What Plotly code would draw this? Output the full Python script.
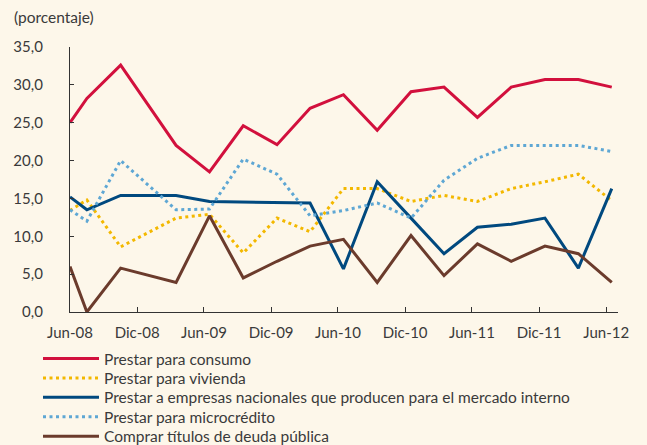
import plotly.graph_objects as go

fechas = ["2008-06-15", "2008-07-31", "2008-10-31", "2009-03-31", "2009-06-30",
          "2009-09-30", "2009-12-31", "2010-03-31", "2010-06-30", "2010-09-30",
          "2010-12-31", "2011-03-31", "2011-06-30", "2011-09-30", "2011-12-31",
          "2012-03-31", "2012-06-30"]

consumo = [25.0, 28.2, 32.6, 22.0, 18.5, 24.6, 22.1, 26.9, 28.7, 24.0,
           29.1, 29.7, 25.7, 29.7, 30.7, 30.7, 29.7]
vivienda = [13.4, 14.8, 8.6, 12.4, 12.9, 7.8, 12.4, 10.6, 16.3, 16.3,
            14.6, 15.4, 14.6, 16.3, 17.2, 18.2, 14.7]
empresas = [15.2, 13.5, 15.4, 15.4, 14.6, 14.5, 14.4, 14.4, 5.7, 17.2,
            12.4, 7.7, 11.2, 11.6, 12.4, 5.8, 16.3]
microcredito = [13.5, 12.0, 20.0, 13.5, 13.6, 20.2, 18.2, 12.7, 13.4, 14.4,
                12.4, 17.4, 20.3, 22.0, 22.0, 22.0, 21.2]
deuda = [6.0, 0.0, 5.8, 3.9, 12.7, 4.5, 6.7, 8.7, 9.6, 3.9,
         10.1, 4.8, 9.0, 6.7, 8.7, 7.7, 3.9]

tick_fechas = ["2008-06-15", "2008-12-15", "2009-06-15", "2009-12-15", "2010-06-15",
               "2010-12-15", "2011-06-15", "2011-12-15", "2012-06-15"]
tick_textos = ["Jun-08", "Dic-08", "Jun-09", "Dic-09", "Jun-10",
               "Dic-10", "Jun-11", "Dic-11", "Jun-12"]

series = [
    ("Prestar para consumo", consumo, "#d2103d", "solid"),
    ("Prestar para vivienda", vivienda, "#f3b800", "3px,3.5px"),
    ("Prestar a empresas nacionales que producen para el mercado interno", empresas, "#00497f", "solid"),
    ("Prestar para microcrédito", microcredito, "#5ea7d4", "3px,3.5px"),
    ("Comprar títulos de deuda pública", deuda, "#6b3b2c", "solid"),
]

FONT = "Lato"
TXT = "#3a3a3a"
BG = "#fdf7ea"
W, H = 647, 445

fig = go.Figure()
legend_cfg = {}
for i, (nombre, vals, color, dash) in enumerate(series):
    lname = "legend" if i == 0 else f"legend{i + 1}"
    fig.add_trace(go.Scatter(
        x=fechas, y=vals, name=nombre, mode="lines",
        line=dict(color=color, width=3, dash=dash),
        cliponaxis=False, legend=lname,
    ))
    row_y = 359 + i * 19.4
    legend_cfg[lname] = dict(
        xref="container", yref="container",
        x=38 / W, y=1 - row_y / H, xanchor="left", yanchor="middle",
        bgcolor="rgba(0,0,0,0)", font=dict(family=FONT, size=15.5, color=TXT),
        itemwidth=56,
    )

fig.update_layout(
    width=W, height=H,
    paper_bgcolor=BG, plot_bgcolor=BG,
    margin=dict(l=70, r=29, t=47, b=133, autoexpand=False),
    separators=",.",
    font=dict(family=FONT, size=15, color=TXT),
    showlegend=True,
    annotations=[dict(
        text="(porcentaje)", xref="paper", yref="paper",
        x=-0.105, y=1.0, xanchor="left", yanchor="middle", yshift=30,
        showarrow=False, font=dict(size=15.5, color=TXT),
    )],
    **legend_cfg,
)
fig.update_xaxes(
    type="date", range=["2008-06-15", "2012-07-17"],
    tickvals=tick_fechas, ticktext=tick_textos,
    showline=True, linecolor="#333333", linewidth=1.3,
    ticks="inside", ticklen=5, tickcolor="#333333",
    showgrid=False, zeroline=False,
    tickfont=dict(size=15, color=TXT), ticklabelstandoff=7,
)
fig.update_yaxes(
    range=[0, 35], dtick=5, tick0=0, tickformat=".1f",
    showline=True, linecolor="#333333", linewidth=1.3,
    ticks="inside", ticklen=4, tickcolor="#333333",
    showgrid=False, zeroline=False,
    tickfont=dict(size=15, color=TXT), ticklabelstandoff=23,
)

fig.write_html(
    "out.html",
    config={"displayModeBar": False},
    post_script=f"document.body.style.margin='0px'; document.body.style.background='{BG}';",
)
